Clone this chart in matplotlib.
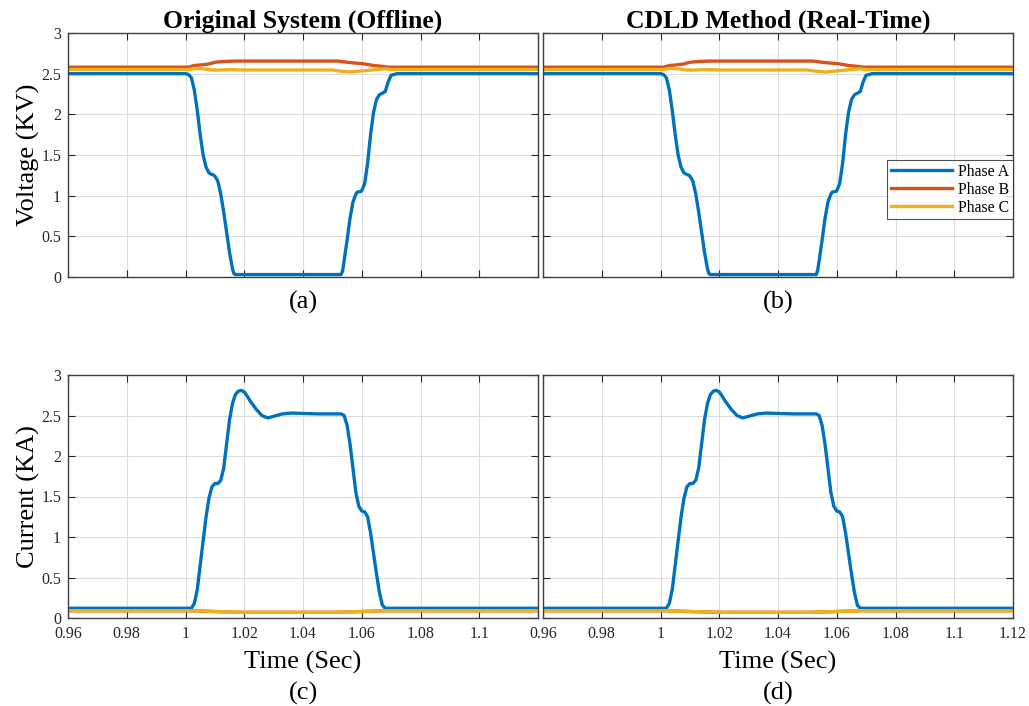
import matplotlib
matplotlib.use("Agg")
import matplotlib.pyplot as plt
from matplotlib.ticker import FixedLocator

plt.rcParams['font.family'] = ['Liberation Serif', 'DejaVu Serif']

# ---------------- data ----------------
t_va = [0.96, 1.000, 1.001, 1.002, 1.003, 1.004, 1.005, 1.006, 1.007, 1.008, 1.009,
        1.0095, 1.010, 1.011, 1.012, 1.013, 1.014, 1.015, 1.016, 1.0165, 1.017,
        1.053, 1.0535, 1.054, 1.055, 1.056, 1.057, 1.058, 1.0585, 1.0595, 1.060,
        1.061, 1.062, 1.063, 1.064, 1.065, 1.066, 1.067, 1.068, 1.069, 1.070, 1.072, 1.12]
v_a = [2.50, 2.50, 2.49, 2.45, 2.30, 2.05, 1.75, 1.50, 1.35, 1.28, 1.26,
       1.255, 1.24, 1.18, 1.02, 0.80, 0.55, 0.30, 0.10, 0.04, 0.03,
       0.03, 0.08, 0.20, 0.45, 0.72, 0.92, 1.02, 1.045, 1.05, 1.06,
       1.15, 1.40, 1.75, 2.02, 2.18, 2.24, 2.26, 2.28, 2.40, 2.48, 2.50, 2.50]

t_vb = [0.96, 1.001, 1.003, 1.006, 1.008, 1.010, 1.013, 1.017, 1.040, 1.052,
        1.055, 1.058, 1.061, 1.064, 1.067, 1.069, 1.12]
v_b = [2.58, 2.58, 2.60, 2.61, 2.62, 2.64, 2.65, 2.655, 2.655, 2.655,
       2.64, 2.63, 2.62, 2.60, 2.59, 2.58, 2.58]

t_vc = [0.96, 1.001, 1.003, 1.006, 1.009, 1.012, 1.015, 1.020, 1.050, 1.053,
        1.056, 1.059, 1.062, 1.065, 1.068, 1.070, 1.12]
v_c = [2.55, 2.55, 2.565, 2.56, 2.545, 2.545, 2.55, 2.545, 2.545, 2.53,
       2.52, 2.53, 2.54, 2.55, 2.56, 2.55, 2.55]

t_ia = [0.96, 1.002, 1.003, 1.004, 1.005, 1.006, 1.007, 1.008, 1.009, 1.010, 1.011,
        1.012, 1.013, 1.014, 1.015, 1.016, 1.017, 1.018, 1.019, 1.020, 1.021, 1.022,
        1.024, 1.026, 1.028, 1.030, 1.033, 1.036, 1.045, 1.053, 1.054, 1.055, 1.056,
        1.057, 1.058, 1.059, 1.060, 1.061, 1.062, 1.063, 1.064, 1.065, 1.066, 1.067,
        1.068, 1.12]
i_a = [0.12, 0.12, 0.18, 0.35, 0.65, 0.95, 1.25, 1.48, 1.62, 1.66, 1.66,
       1.70, 1.85, 2.15, 2.45, 2.65, 2.76, 2.80, 2.81, 2.79, 2.74, 2.68,
       2.58, 2.50, 2.47, 2.49, 2.52, 2.53, 2.52, 2.52, 2.50, 2.38, 2.15,
       1.85, 1.55, 1.38, 1.32, 1.31, 1.25, 1.05, 0.80, 0.55, 0.32, 0.16,
       0.12, 0.12]

t_ib = [0.96, 1.002, 1.010, 1.020, 1.050, 1.060, 1.068, 1.12]
i_b = [0.09, 0.09, 0.08, 0.07, 0.07, 0.08, 0.09, 0.09]
t_ic = [0.96, 1.002, 1.010, 1.020, 1.050, 1.060, 1.068, 1.12]
i_c = [0.09, 0.09, 0.08, 0.07, 0.07, 0.08, 0.09, 0.09]

x_ticks = [0.96, 0.98, 1.0, 1.02, 1.04, 1.06, 1.08, 1.1, 1.12]
x_ticklabels_c = ['0.96', '0.98', '1', '1.02', '1.04', '1.06', '1.08', '1.1', '']
x_ticklabels_d = ['0.96', '0.98', '1', '1.02', '1.04', '1.06', '1.08', '1.1', '1.12']
y_ticks = [0, 0.5, 1, 1.5, 2, 2.5, 3]
y_ticklabels = ['0', '0.5', '1', '1.5', '2', '2.5', '3']

titles = ['Original System (Offline)', 'CDLD Method (Real-Time)']
panel_labels = ['(a)', '(b)', '(c)', '(d)']
series_names = ['Phase A', 'Phase B', 'Phase C']
colors = ['#0072BD', '#D95319', '#EDB120']

# ---------------- figure ----------------
W, H = 1029, 706
fig = plt.figure(figsize=(W / 100, H / 100), dpi=100)

def ax_rect(x0, x1, y0, y1):
    return [x0 / W, 1 - y1 / H, (x1 - x0) / W, (y1 - y0) / H]

rects = [ax_rect(68, 538, 33, 277), ax_rect(543, 1013, 33, 277),
         ax_rect(68, 538, 375, 618), ax_rect(543, 1013, 375, 618)]
axes = [fig.add_axes(r) for r in rects]

lw = 2.4
for k, ax in enumerate(axes):
    if k < 2:
        ax.plot(t_va, v_a, color=colors[0], lw=lw, label=series_names[0])
        ax.plot(t_vb, v_b, color=colors[1], lw=lw, label=series_names[1])
        ax.plot(t_vc, v_c, color=colors[2], lw=lw, label=series_names[2])
    else:
        ax.plot(t_ia, i_a, color=colors[0], lw=lw, label=series_names[0])
        ax.plot(t_ib, i_b, color=colors[1], lw=lw, label=series_names[1])
        ax.plot(t_ic, i_c, color=colors[2], lw=lw, label=series_names[2])
    ax.set_xlim(0.96, 1.12)
    ax.set_ylim(0, 3)
    ax.xaxis.set_major_locator(FixedLocator(x_ticks))
    ax.yaxis.set_major_locator(FixedLocator(y_ticks))
    ax.grid(True, color='#dcdcdc', lw=0.8)
    ax.set_axisbelow(True)
    ax.tick_params(direction='in', top=True, right=True, length=5, width=0.8,
                   colors='#262626', labelsize=11.5, labelcolor='#262626')
    ax.tick_params(axis='x', pad=6)
    ax.tick_params(axis='y', pad=5)
    for s in ax.spines.values():
        s.set_color('#404040')
        s.set_linewidth(1.0)
    if k < 2:
        ax.set_xticklabels([])
    else:
        ax.set_xticklabels(x_ticklabels_c if k == 2 else x_ticklabels_d)
        ax.set_xlabel('Time (Sec)', fontsize=19, labelpad=6)
    if k % 2 == 0:
        ax.set_yticklabels(y_ticklabels)
    else:
        ax.set_yticklabels([])

axes[0].set_ylabel('Voltage (KV)', fontsize=19, labelpad=1)
axes[2].set_ylabel('Current (KA)', fontsize=19, labelpad=1)
axes[0].set_title(titles[0], fontsize=18.5, fontweight='bold', pad=3)
axes[1].set_title(titles[1], fontsize=18.5, fontweight='bold', pad=3)

# panel labels
fig.text(303 / W, 1 - 302 / H, panel_labels[0], ha='center', va='center', fontsize=19)
fig.text(778 / W, 1 - 302 / H, panel_labels[1], ha='center', va='center', fontsize=19)
fig.text(303 / W, 1 - 693 / H, panel_labels[2], ha='center', va='center', fontsize=19)
fig.text(778 / W, 1 - 693 / H, panel_labels[3], ha='center', va='center', fontsize=19)

leg = axes[1].legend(loc='upper right', bbox_to_anchor=(1.0, 0.480), fontsize=11.3,
                     frameon=True, fancybox=False, edgecolor='#262626',
                     handlelength=3.9, borderpad=0.25, labelspacing=0.12,
                     handletextpad=0.35, borderaxespad=0)
leg.get_frame().set_linewidth(0.8)

fig.savefig('out.png', dpi=100)
